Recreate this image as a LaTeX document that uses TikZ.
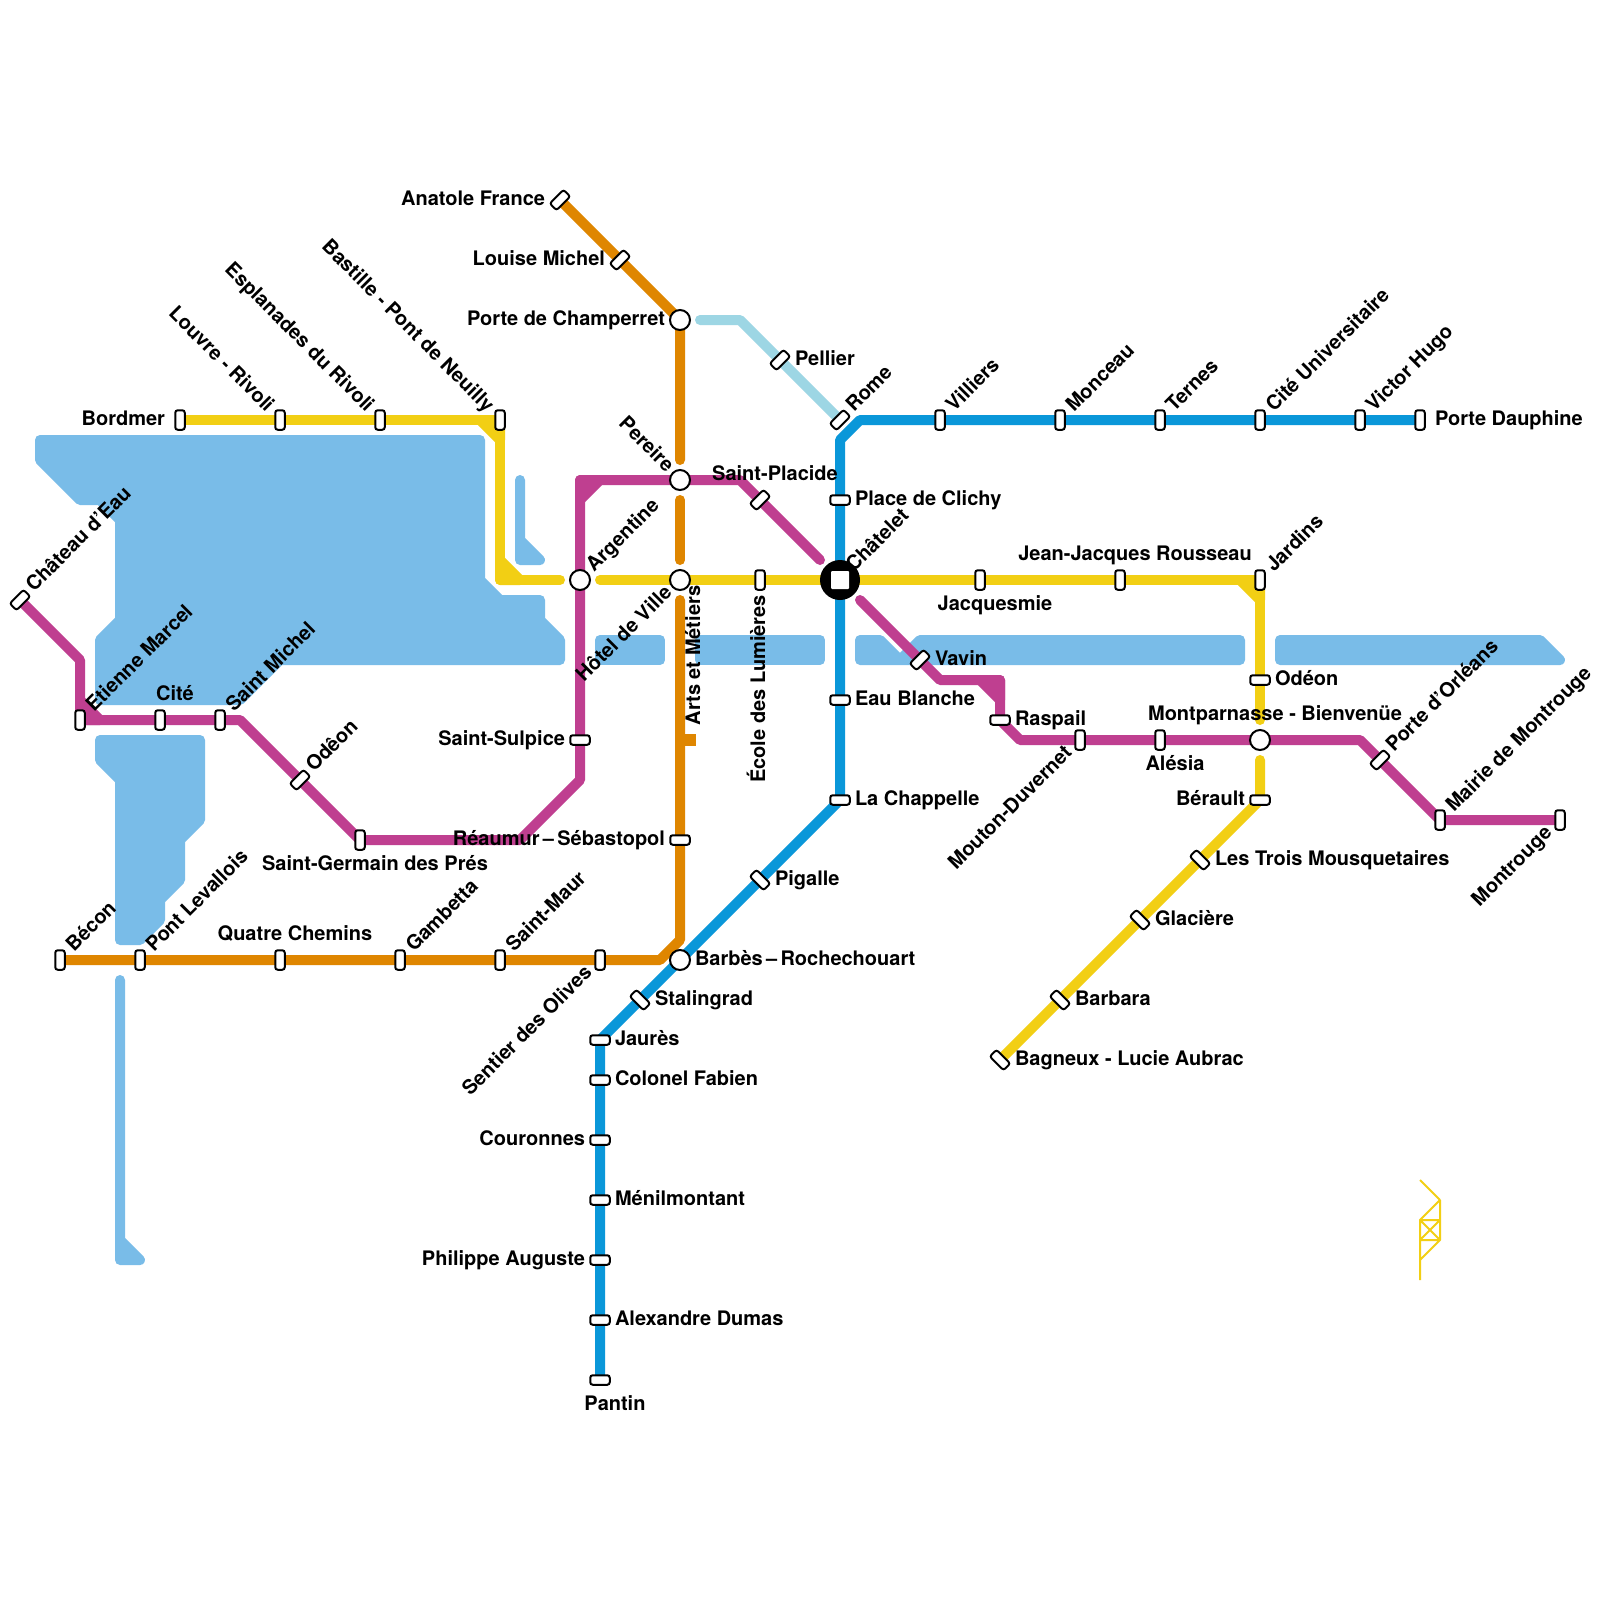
\documentclass[tikz,border=0pt]{standalone}
\usepackage{fontspec}
\setmainfont[Ligatures=ResetAll]{TeX Gyre Heros}
\definecolor{wat}{HTML}{79BCE8}
\definecolor{pur}{HTML}{BF3F90}
\definecolor{yel}{HTML}{F2CF14}
\definecolor{ora}{HTML}{DF8600}
\definecolor{blu}{HTML}{0A97D9}
\definecolor{lbl}{HTML}{9DD6E4}
\pgfdeclarelayer{water}
\pgfdeclarelayer{lines}
\pgfsetlayers{water,lines,main}
\tikzset{
  stBase/.style={rectangle,draw=black,fill=white,line width=2pt,rounded corners=2.5pt,inner sep=0pt,outer sep=0pt,minimum width=9.5pt,minimum height=19.5pt},
  stV/.style={stBase},
  stH/.style={stBase,minimum width=19.5pt,minimum height=9.5pt},
  stS/.style={stBase,rotate=-45},
  stB/.style={stBase,rotate=45},
  stO/.style={circle,draw=black,fill=white,line width=2pt,inner sep=0pt,outer sep=0pt,minimum size=20pt},
  lab/.style={inner sep=0pt,outer sep=0pt,font=\fontsize{20pt}{21pt}\selectfont\bfseries,text=black},
  lE/.style={lab,anchor=base west,xshift=15pt,yshift=-5pt},
  lW/.style={lab,anchor=base east,xshift=-15pt,yshift=-5pt},
  lA/.style={lab,anchor=base,xshift=15pt,yshift=20pt},
  lB/.style={lab,anchor=base,xshift=15pt,yshift=-30pt},
  lUR/.style={lab,anchor=base west,xshift=14.1pt,yshift=7.1pt,rotate=45},
  lLL/.style={lab,anchor=base east,xshift=-7.1pt,yshift=-14.1pt,rotate=45},
  lUL/.style={lab,anchor=base east,xshift=-14.1pt,yshift=7.1pt,rotate=-45},
  wfill/.style={fill=wat,draw=wat,line width=10pt,line join=round},
  metro/.style={line width=10pt,line join=round,line cap=round},
  tri/.style={line width=10pt,line join=round,fill},
  ml1/.style={metro,draw=pur},
  ml2/.style={metro,draw=yel},
  ml3/.style={metro,draw=ora},
  ml4/.style={metro,draw=blu},
  ml5/.style={metro,draw=lbl}
}
\begin{document}
\begin{tikzpicture}[x=1pt,y=-1pt]
\useasboundingbox (0,0) rectangle (1600,1600);
\begin{pgfonlayer}{water}
\fill[white] (0,0) rectangle (1600,1600);
\path[wfill] (40,440)--(480,440)--(480,580)--(500,600)--(540,600)--(540,620)--(560,640)--(560,660)--(280,660)--(240,700)--(100,700)--(100,640)--(120,620)--(120,520)--(100,500)--(80,500)--(40,460)--cycle;
\path[wfill] (100,740)--(200,740)--(200,820)--(180,840)--(180,880)--(160,900)--(160,920)--(140,940)--(120,940)--(120,780)--(100,760)--cycle;
\path[wfill] (120,980)--(120,1260)--(140,1260)--(120,1240)--cycle;
\path[wfill] (520,480)--(520,560)--(540,560)--(520,540)--cycle;
\path[wfill] (600,640)--(660,640)--(660,660)--(600,660)--cycle;
\path[wfill] (700,640)--(820,640)--(820,660)--(700,660)--cycle;
\path[wfill] (860,640)--(880,640)--(900,660)--(920,640)--(1240,640)--(1240,660)--(860,660)--cycle;
\path[wfill] (1280,640)--(1540,640)--(1560,660)--(1280,660)--cycle;
\end{pgfonlayer}

% purple stations
\node[stS] (chateau) at (20,600) {};
\node[stV] (etienne) at (80,720) {};
\node[stV] (cite) at (160,720) {};
\node[stV] (smichel) at (220,720) {};
\node[stS] (odeonA) at (300,780) {};
\node[stV] (sgermain) at (360,840) {};
\node[stH] (ssulpice) at (580,740) {};
\node[stO] (argentine) at (580,580) {};
\node[stO] (pereire) at (680,480) {};
\node[stS] (splacide) at (760,500) {};
\node[stS] (vavin) at (920,660) {};
\node[stH] (raspail) at (1000,720) {};
\node[stV] (mouton) at (1080,740) {};
\node[stV] (alesia) at (1160,740) {};
\node[stO] (montparnasse) at (1260,740) {};
\node[stS] (porleans) at (1380,760) {};
\node[stV] (mairie) at (1440,820) {};
\node[stV] (montrouge) at (1560,820) {};
% yellow stations
\node[stV] (bordmer) at (180,420) {};
\node[stV] (louvre) at (280,420) {};
\node[stV] (esplanades) at (380,420) {};
\node[stV] (bastille) at (500,420) {};
\node[stO] (hotel) at (680,580) {};
\node[stV] (ecole) at (760,580) {};
\node[stV] (jacquesmie) at (980,580) {};
\node[stV] (jjr) at (1120,580) {};
\node[stV] (jardins) at (1260,580) {};
\node[stH] (odeonB) at (1260,680) {};
\node[stH] (berault) at (1260,800) {};
\node[stB] (mousq) at (1200,860) {};
\node[stB] (glaciere) at (1140,920) {};
\node[stB] (barbara) at (1060,1000) {};
\node[stB] (bagneux) at (1000,1060) {};
% orange stations
\node[stS] (anatole) at (560,200) {};
\node[stS] (louise) at (620,260) {};
\node[stO] (champerret) at (680,320) {};
\node[rectangle,fill=ora,inner sep=0pt,minimum width=16pt,minimum height=12pt] (arts) at (688,740) {};
\node[stH] (reaumur) at (680,840) {};
\node[stV] (becon) at (60,960) {};
\node[stV] (levallois) at (140,960) {};
\node[stV] (quatre) at (280,960) {};
\node[stV] (gambetta) at (400,960) {};
\node[stV] (smaur) at (500,960) {};
\node[stV] (sentier) at (600,960) {};
% light-blue stations
\node[stS] (pellier) at (780,360) {};
\node[stS] (rome) at (840,420) {};
% blue stations
\node[stV] (villiers) at (940,420) {};
\node[stV] (monceau) at (1060,420) {};
\node[stV] (ternes) at (1160,420) {};
\node[stV] (citeU) at (1260,420) {};
\node[stV] (hugo) at (1360,420) {};
\node[stV] (dauphine) at (1420,420) {};
\node[stH] (clichy) at (840,500) {};
\node[stH] (eaublanche) at (840,700) {};
\node[stH] (chappelle) at (840,800) {};
\node[stB] (pigalle) at (760,880) {};
\node[stO] (barbes) at (680,960) {};
\node[stB] (stalingrad) at (640,1000) {};
\node[stH] (jaures) at (600,1040) {};
\node[stH] (fabien) at (600,1080) {};
\node[stH] (couronnes) at (600,1140) {};
\node[stH] (menil) at (600,1200) {};
\node[stH] (philippe) at (600,1260) {};
\node[stH] (dumas) at (600,1320) {};
\node[stH] (pantin) at (600,1380) {};
% hub
\node[circle,fill=black,inner sep=0pt,minimum size=40pt] (chatelet) at (840,580) {};
\node[rectangle,fill=white,rounded corners=1pt,inner sep=0pt,minimum size=18pt] (chatsq) at (chatelet) {};

% bend points
\coordinate (p1) at (80,660); \coordinate (p2) at (240,720); \coordinate (p3) at (520,840);
\coordinate (p4) at (580,780); \coordinate (p5) at (580,480); \coordinate (p6) at (740,480);
\coordinate (p7) at (820,560); \coordinate (p8) at (860,600); \coordinate (p9) at (940,680);
\coordinate (p10) at (1000,680); \coordinate (p11) at (1020,740); \coordinate (p12) at (1360,740);
\coordinate (y1) at (500,580); \coordinate (y2) at (560,580); \coordinate (y3) at (600,580);
\coordinate (y4) at (1260,720); \coordinate (y5) at (1260,760);
\coordinate (o1) at (680,460); \coordinate (o2) at (680,500); \coordinate (o3) at (680,560);
\coordinate (o4) at (680,600); \coordinate (o5) at (680,940); \coordinate (o6) at (660,960);
\coordinate (l1) at (700,320); \coordinate (l2) at (740,320);
\coordinate (b1) at (860,420); \coordinate (b2) at (840,440); \coordinate (b3) at (600,1040);

\begin{pgfonlayer}{lines}
\draw[ml5] (l1)--(l2)--(rome.center);
\draw[ml3] (anatole.center)--(champerret.center)--(o1);
\draw[ml3] (o2)--(o3);
\draw[ml3] (o4)--(o5)--(o6)--(becon.center);
\draw[ml1] (chateau.center)--(p1)--(etienne.center)--(p2)--(sgermain.center)--(p3)--(p4)--(p5)--(p6)--(p7);
\fill[pur,tri,draw=pur] (80,700)--(80,720)--(100,720)--cycle;
\fill[pur,tri,draw=pur] (580,500)--(580,480)--(600,480)--cycle;
\draw[ml1] (p8)--(p9)--(p10)--(raspail.center)--(p11)--(p12)--(mairie.center)--(montrouge.center);
\fill[pur,tri,draw=pur] (980,680)--(1000,680)--(1000,700)--cycle;
\draw[ml2] (bordmer.center)--(bastille.center)--(y1)--(y2);
\fill[yel,tri,draw=yel] (480,420)--(500,420)--(500,440)--cycle;
\fill[yel,tri,draw=yel] (500,560)--(500,580)--(520,580)--cycle;
\draw[ml2] (y3)--(jardins.center)--(y4);
\fill[yel,tri,draw=yel] (1240,580)--(1260,580)--(1260,600)--cycle;
\draw[ml2] (y5)--(berault.center)--(bagneux.center);
\draw[ml4] (dauphine.center)--(b1)--(b2)--(chappelle.center)--(b3)--(pantin.center);
\end{pgfonlayer}

% icon
\coordinate (i1) at (1420,1180); \coordinate (i2) at (1440,1200); \coordinate (i3) at (1420,1220);
\coordinate (i4) at (1440,1220); \coordinate (i5) at (1420,1240); \coordinate (i6) at (1440,1240);
\coordinate (i7) at (1420,1260); \coordinate (i8) at (1420,1280);
\draw[yel,line width=2pt,line join=round] (i1)--(i2)--(i3)--(i8) (i2)--(i6)--(i7) (i3)--(i4) (i5)--(i6) (i3)--(i6) (i4)--(i5);

% labels
\node[lUR] (tChateau) at (chateau) {Château d'Eau};
\node[lUR] (tEtienne) at (etienne) {Etienne Marcel};
\node[lA] (tCite) at (cite) {Cité};
\node[lUR] (tSmichel) at (smichel) {Saint Michel};
\node[lUR] (tOdeonA) at (odeonA) {Odêon};
\node[lB] (tSgermain) at (sgermain) {Saint-Germain des Prés};
\node[lW] (tSsulpice) at (ssulpice) {Saint-Sulpice};
\node[lUR] (tArgentine) at (argentine) {Argentine};
\node[lUL] (tPereire) at (pereire) {Pereire};
\node[lA] (tSplacide) at (splacide) {Saint-Placide};
\node[lE] (tVavin) at (vavin) {Vavin};
\node[lE] (tRaspail) at (raspail) {Raspail};
\node[lLL] (tMouton) at (mouton) {Mouton-Duvernet};
\node[lB] (tAlesia) at (alesia) {Alésia};
\node[lA] (tMontp) at (montparnasse) {Montparnasse - Bienvenüe};
\node[lUR] (tPorleans) at (porleans) {Porte d'Orléans};
\node[lUR] (tMairie) at (mairie) {Mairie de Montrouge};
\node[lLL] (tMontrouge) at (montrouge) {Montrouge};
\node[lW] (tBordmer) at (bordmer) {Bordmer};
\node[lUL] (tLouvre) at (louvre) {Louvre - Rivoli};
\node[lUL] (tEspl) at (esplanades) {Esplanades du Rivoli};
\node[lUL] (tBastille) at (bastille) {Bastille - Pont de Neuilly};
\node[lLL] (tHotel) at (hotel) {Hôtel de Ville};
\node[lab,anchor=base east,xshift=5pt,yshift=-15pt,rotate=90] (tEcole) at (ecole) {École des Lumières};
\node[lB] (tJacq) at (jacquesmie) {Jacquesmie};
\node[lA] (tJjr) at (jjr) {Jean-Jacques Rousseau};
\node[lUR] (tJardins) at (jardins) {Jardins};
\node[lE] (tOdeonB) at (odeonB) {Odéon};
\node[lW] (tBerault) at (berault) {Bérault};
\node[lE] (tMousq) at (mousq) {Les Trois Mousquetaires};
\node[lE] (tGlaciere) at (glaciere) {Glacière};
\node[lE] (tBarbara) at (barbara) {Barbara};
\node[lE] (tBagneux) at (bagneux) {Bagneux - Lucie Aubrac};
\node[lW] (tAnatole) at (anatole) {Anatole France};
\node[lW] (tLouise) at (louise) {Louise Michel};
\node[lW] (tChamp) at (champerret) {Porte de Champerret};
\node[lab,anchor=base west,xshift=12pt,yshift=15pt,rotate=90] (tArts) at (arts) {Arts et Métiers};
\node[lW] (tReaumur) at (reaumur) {Réaumur\,–\,Sébastopol};
\node[lUR] (tBecon) at (becon) {Bécon};
\node[lUR] (tLevallois) at (levallois) {Pont Levallois};
\node[lA] (tQuatre) at (quatre) {Quatre Chemins};
\node[lUR] (tGambetta) at (gambetta) {Gambetta};
\node[lUR] (tSmaur) at (smaur) {Saint-Maur};
\node[lLL] (tSentier) at (sentier) {Sentier des Olives};
\node[lE] (tPellier) at (pellier) {Pellier};
\node[lUR] (tRome) at (rome) {Rome};
\node[lUR] (tVilliers) at (villiers) {Villiers};
\node[lUR] (tMonceau) at (monceau) {Monceau};
\node[lUR] (tTernes) at (ternes) {Ternes};
\node[lUR] (tCiteU) at (citeU) {Cité Universitaire};
\node[lUR] (tHugo) at (hugo) {Victor Hugo};
\node[lE] (tDauphine) at (dauphine) {Porte Dauphine};
\node[lE] (tClichy) at (clichy) {Place de Clichy};
\node[lE] (tEau) at (eaublanche) {Eau Blanche};
\node[lE] (tChappelle) at (chappelle) {La Chappelle};
\node[lE] (tPigalle) at (pigalle) {Pigalle};
\node[lE] (tBarbes) at (barbes) {Barbès\,–\,Rochechouart};
\node[lE] (tStalingrad) at (stalingrad) {Stalingrad};
\node[lE] (tJaures) at (jaures) {Jaurès};
\node[lE] (tFabien) at (fabien) {Colonel Fabien};
\node[lW] (tCouronnes) at (couronnes) {Couronnes};
\node[lE] (tMenil) at (menil) {Ménilmontant};
\node[lW] (tPhilippe) at (philippe) {Philippe Auguste};
\node[lE] (tDumas) at (dumas) {Alexandre Dumas};
\node[lB] (tPantin) at (pantin) {Pantin};
\node[lUR] (tChatelet) at (chatelet) {Châtelet};
\end{tikzpicture}
\end{document}
